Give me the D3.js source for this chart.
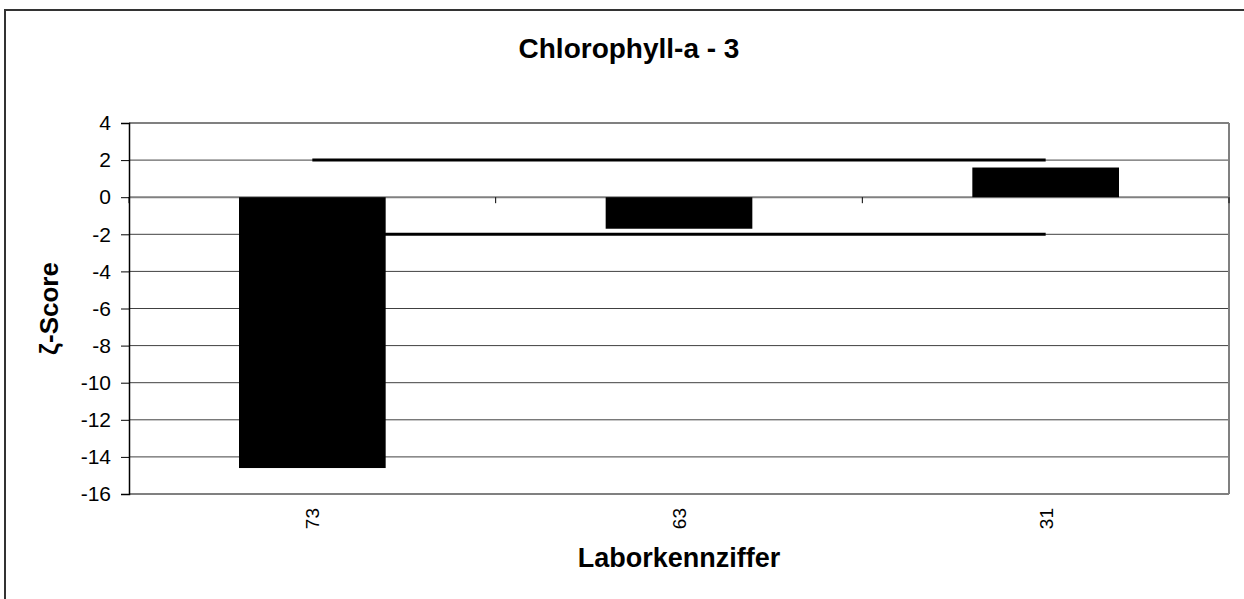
<!DOCTYPE html>
<html>
<head>
<meta charset="utf-8">
<script src="https://cdn.jsdelivr.net/npm/d3@7"></script>
<style>
	body	{ margin:0; background:#fff; }
	text	{ font-family: Arial, "Liberation Sans", sans-serif; fill:#000; }
</style>
</head>
<body>
<div id="chart"></div>
<script>
var	labs	= ["73", "63", "31"],
	scores	= [-14.6, -1.7, 1.6],
	limits	= [2, -2],
	yTicks	= [4, 2, 0, -2, -4, -6, -8, -10, -12, -14, -16],
	title	= "Chlorophyll-a - 3",
	xTitle	= "Laborkennziffer",
	yTitle	= "\u03B6-Score";

var	W	= 1244, H = 599,
	margin	= {top: 123, right: 15, bottom: 105, left: 129},
	w	= W - margin.left - margin.right,
	h	= H - margin.top - margin.bottom;

var	svg	= d3.select("#chart").append("svg").attr("width", W).attr("height", H);

// outer chart frame (runs off the picture on right/bottom)
svg.append("rect").attr("x", 5).attr("y", 10).attr("width", W + 20).attr("height", H + 20)
	.attr("fill", "#fff").attr("stroke", "#333").style("stroke-width", "2px");

var	x	= d3.scaleBand().domain(labs).range([0, w]).paddingInner(0).paddingOuter(0),
	y	= d3.scaleLinear().domain([-16, 4]).range([h, 0]),
	bw	= x.bandwidth() / 2.5;

var	g	= svg.append("g").attr("transform", "translate(" + margin.left + "," + margin.top + ")");

// grid lines
g.append("g").attr("class", "grid").selectAll("line").data(yTicks).enter().append("line")
	.attr("x1", 0).attr("x2", w)
	.attr("y1", function(d) { return y(d); }).attr("y2", function(d) { return y(d); })
	.attr("stroke", function(d) { return (d == 4 || d == -16 || d == 0) ? "#808080" : "#404040"; })
	.style("stroke-width", function(d) { return (d == 4 || d == -16 || d == 0) ? "2px" : "1px"; });
g.append("line").attr("x1", w).attr("x2", w).attr("y1", 0).attr("y2", h)
	.attr("stroke", "#808080").style("stroke-width", "2px");

// bars
g.selectAll(".bar").data(scores).enter().append("rect").attr("class", "bar")
	.attr("x", function(d, i) { return x(labs[i]) + (x.bandwidth() - bw) / 2; })
	.attr("width", bw)
	.attr("y", function(d) { return y(Math.max(0, d)); })
	.attr("height", function(d) { return Math.abs(y(d) - y(0)); })
	.attr("fill", "#000");

// limit lines +2 / -2
var	line	= d3.line()
		.x(function(d) { return x(d) + x.bandwidth() / 2; });
limits.forEach(function(v) {
	g.append("path").datum(labs)
		.attr("d", line.y(function() { return y(v); }))
		.attr("fill", "none").attr("stroke", "#000").style("stroke-width", "3px");
});

// y axis
var	yAxis	= g.append("g").attr("class", "y axis")
		.call(d3.axisLeft(y).tickValues(yTicks).tickSize(8).tickPadding(10).tickFormat(d3.format("d")));
yAxis.select(".domain").attr("stroke", "#000").style("stroke-width", "1.5px");
yAxis.selectAll(".tick line").attr("stroke", "#000");
yAxis.selectAll(".tick text").style("font-size", "21px").text(function(d) { return d < 0 ? "-" + Math.abs(d) : d; });

// category boundary ticks on the zero line
g.append("g").selectAll("line").data(labs.concat([null])).enter().append("line")
	.attr("x1", function(d, i) { return i * x.step(); }).attr("x2", function(d, i) { return i * x.step(); })
	.attr("y1", y(0)).attr("y2", y(0) + 6)
	.attr("stroke", "#000");

// x labels, rotated
g.selectAll(".xlab").data(labs).enter().append("text").attr("class", "xlab")
	.attr("transform", function(d) { return "translate(" + (x(d) + x.bandwidth() / 2 + 7) + "," + (h + 14) + ") rotate(-90)"; })
	.attr("text-anchor", "end")
	.style("font-size", "19px")
	.text(function(d) { return d; });

// titles
svg.append("text").attr("x", 629).attr("y", 58).attr("text-anchor", "middle")
	.style("font-size", "28px").style("font-weight", "bold").text(title);
svg.append("text").attr("x", margin.left + w / 2).attr("y", 567).attr("text-anchor", "middle")
	.style("font-size", "27px").style("font-weight", "bold").text(xTitle);
svg.append("text").attr("transform", "translate(58," + (margin.top + h / 2) + ") rotate(-90)")
	.attr("text-anchor", "middle")
	.style("font-size", "26px").style("font-weight", "bold").text(yTitle);
</script>
</body>
</html>
